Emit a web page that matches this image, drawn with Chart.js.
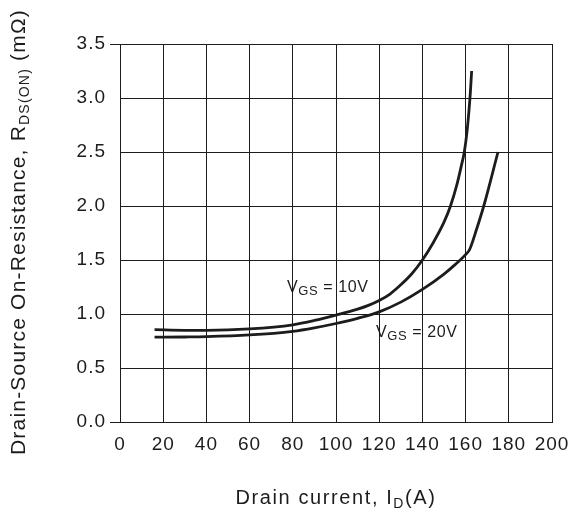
<!DOCTYPE html>
<html>
<head>
<meta charset="utf-8">
<script src="https://cdn.jsdelivr.net/npm/chart.js@4/dist/chart.umd.min.js"></script>
<style>
  html, body { margin: 0; padding: 0; background: #fff; }
  #wrap { width: 568px; height: 512px; }
</style>
</head>
<body>
<div id="wrap"><canvas id="chartRds"></canvas></div>
<script>
'use strict';

/* ── Data ──────────────────────────────────────────────────────── */
const currentA10 = [16, 30, 40, 60, 80, 90, 100, 110, 115, 120, 125, 130, 135, 140, 145, 150, 153, 156, 158, 159.4, 160.6, 161.5, 162.2, 162.8];
const rdsOn10    = [0.855, 0.849, 0.849, 0.862, 0.90, 0.94, 0.99, 1.045, 1.08, 1.125, 1.185, 1.27, 1.37, 1.50, 1.66, 1.85, 2.0, 2.2, 2.37, 2.5, 2.68, 2.87, 3.05, 3.25];

const currentA20 = [16, 30, 40, 60, 80, 90, 100, 110, 120, 130, 140, 150, 155, 160, 161.8, 165, 168.4, 175];
const rdsOn20    = [0.785, 0.787, 0.79, 0.806, 0.84, 0.872, 0.912, 0.96, 1.02, 1.11, 1.228, 1.37, 1.455, 1.55, 1.595, 1.78, 2.0, 2.5];

const xTicks = [0, 20, 40, 60, 80, 100, 120, 140, 160, 180, 200];
const yTicks = [0, 0.5, 1.0, 1.5, 2.0, 2.5, 3.0, 3.5];

// curve labels, anchored in data units (left edge, baseline)
const curveLabels = [
  { vgs: '10V', x: 77.3, y: 1.206 },
  { vgs: '20V', x: 118.5, y: 0.79 },
];

const FONT = "'Liberation Sans', Arial, sans-serif";
const INK  = '#1c1c1c';

/* ── Rich text helper (main text + subscripts) ─────────────────── */
function drawRich(ctx, parts, x, y, align, spacing) {
  ctx.save();
  ctx.letterSpacing = spacing + 'px';
  let total = 0;
  for (const p of parts) {
    ctx.font = p.size + 'px ' + FONT;
    p.w = ctx.measureText(p.t).width;
    total += p.w;
  }
  let cx = align === 'center' ? x - total / 2 : x;
  ctx.textBaseline = 'alphabetic';
  ctx.textAlign = 'left';
  ctx.fillStyle = INK;
  for (const p of parts) {
    ctx.font = p.size + 'px ' + FONT;
    ctx.fillText(p.t, cx, y + (p.dy || 0));
    cx += p.w;
  }
  ctx.restore();
}

const textPlugin = {
  id: 'datasheetText',
  beforeDraw(chart) {
    chart.ctx.letterSpacing = '1px';
  },
  afterDraw(chart) {
    const { ctx, chartArea, scales } = chart;

    // x title
    drawRich(ctx, [
      { t: 'Drain current, I', size: 20 },
      { t: 'D', size: 14, dy: 4 },
      { t: '(A)', size: 20 },
    ], (chartArea.left + chartArea.right) / 2, 504, 'center', 1.6);

    // y title (rotated)
    ctx.save();
    ctx.translate(25, 232);
    ctx.rotate(-Math.PI / 2);
    drawRich(ctx, [
      { t: 'Drain-Source On-Resistance, R', size: 21 },
      { t: 'DS(ON)', size: 14, dy: 4 },
      { t: ' (mΩ)', size: 21 },
    ], 0, 0, 'center', 1.2);
    ctx.restore();

    // curve labels
    for (const lab of curveLabels) {
      const px = scales.x.getPixelForValue(lab.x);
      const py = scales.y.getPixelForValue(lab.y);
      drawRich(ctx, [
        { t: 'V', size: 16 },
        { t: 'GS', size: 13, dy: 3.5 },
        { t: ' = ' + lab.vgs, size: 16 },
      ], px, py, 'left', 0.6);
    }
  },
};

function curve(xs, ys) {
  return {
    data: xs.map((x, i) => ({ x, y: ys[i] })),
    borderColor: INK,
    borderWidth: 2.8,
    pointRadius: 0,
    fill: false,
    cubicInterpolationMode: 'monotone',
  };
}

new Chart(document.getElementById('chartRds'), {
  type: 'line',
  data: {
    datasets: [curve(currentA10, rdsOn10), curve(currentA20, rdsOn20)],
  },
  plugins: [textPlugin],
  options: {
    responsive: true,
    maintainAspectRatio: false,
    animation: false,
    devicePixelRatio: 1,
    layout: { padding: { top: 44, right: 16, left: 0, bottom: 0 } },
    plugins: { legend: { display: false }, tooltip: { enabled: false } },
    scales: {
      x: {
        type: 'linear',
        min: 0,
        max: 200,
        afterFit: s => { s.height = 90; s.paddingLeft = 0; s.paddingRight = 0; },
        afterBuildTicks: s => { s.ticks = xTicks.map(v => ({ value: v })); },
        border: { color: INK, width: 1 },
        grid: { color: INK, lineWidth: 1, drawTicks: false },
        ticks: {
          autoSkip: false,
          maxRotation: 0,
          padding: 11,
          color: INK,
          font: { family: FONT, size: 19 },
          callback: v => String(v),
        },
      },
      y: {
        type: 'linear',
        min: 0,
        max: 3.5,
        afterFit: s => { s.width = 120; s.paddingTop = 0; s.paddingBottom = 0; },
        afterBuildTicks: s => { s.ticks = yTicks.map(v => ({ value: v })); },
        border: { color: INK, width: 1 },
        grid: {
          color: INK,
          lineWidth: 1,
          tickLength: 10,
          tickColor: c => (c.tick && (c.tick.value === 0 || c.tick.value === 3.5)) ? INK : 'rgba(0,0,0,0)',
        },
        ticks: {
          padding: 4,
          color: INK,
          font: { family: FONT, size: 19 },
          callback: v => Number(v).toFixed(1),
        },
      },
    },
  },
});
</script>
</body>
</html>
